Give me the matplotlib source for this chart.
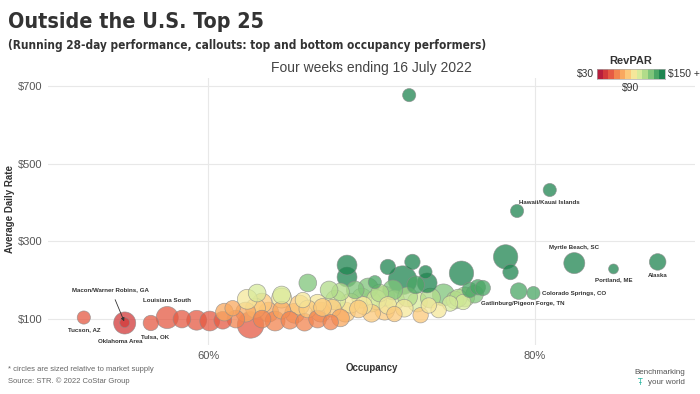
import numpy as np
import matplotlib.pyplot as plt
import matplotlib.font_manager as fm
from matplotlib.colors import ListedColormap, BoundaryNorm

plt.rcParams['font.family'] = ['Liberation Sans', 'DejaVu Sans']

# labelled markets (callouts)
callout_names = ['Hawaii/Kauai Islands', 'Myrtle Beach, SC', 'Portland, ME', 'Alaska',
                 'Colorado Springs, CO', 'Gatlinburg/Pigeon Forge, TN', 'Tucson, AZ',
                 'Oklahoma Area', 'Macon/Warner Robins, GA', 'Tulsa, OK', 'Louisiana South']
callout_occ = [80.9, 82.4, 84.8, 87.5, 79.9, 79.0, 52.4, 54.9, 54.9, 56.5, 57.5]
callout_adr = [432, 244, 229, 247, 167, 172, 104, 90, 91, 90, 104]
callout_supply = [4.1, 10.4, 2.3, 6.5, 4.1, 6.5, 4.1, 11.5, 2.3, 5.6, 11.5]

# all other markets
occ = [72.3, 78.9,
       58.4, 59.3, 60.1, 60.9, 61.7, 62.6, 63.3, 64.1, 65.0, 65.9, 66.7, 67.5, 68.1,
       61.0, 61.5, 62.3, 62.9, 63.7, 64.5, 65.3, 66.1, 66.9, 67.6, 68.4, 69.2, 70.0,
       70.8, 71.4, 73.0, 74.1,
       62.4, 63.3, 64.5, 65.6, 66.7, 67.8, 68.7, 69.4, 70.0, 70.8, 71.4, 72.2, 72.8,
       73.6, 74.4, 75.1, 75.7, 76.3, 68.1, 69.0, 69.8, 70.5, 71.3, 65.8,
       63.0, 66.1, 68.5, 68.5, 71.0, 72.5, 71.9, 73.3, 73.4, 72.7, 75.5, 78.2, 78.5,
       76.0, 76.5, 76.8, 75.3, 75.6, 70.2, 64.5, 67.4,
       71.0, 72.0, 73.5, 69.5, 67.0, 70.3, 74.8]
adr = [676, 378,
       100, 97, 95, 97, 100, 85, 100, 95, 97, 92, 100, 92, 103,
       118, 128, 118, 128, 118, 123, 115, 126, 118, 128, 118, 126, 115,
       123, 113, 110, 123,
       151, 141, 154, 136, 141, 149, 141, 154, 144, 159, 149, 157, 144,
       154, 162, 149, 157, 164, 170, 175, 180, 167, 175, 149,
       167, 193, 239, 208, 234, 247, 200, 221, 193, 188, 218, 260, 221,
       175, 182, 180, 154, 144, 195, 162, 175,
       135, 128, 135, 135, 130, 150, 140]
supply = [4.1, 4.1,
          7.4, 9.3, 9.3, 7.4, 7.4, 16.6, 7.4, 9.3, 7.4, 7.4, 7.4, 5.6, 7.4,
          7.4, 5.6, 9.3, 9.3, 9.3, 7.4, 9.3, 7.4, 9.3, 7.4, 9.3, 7.4, 7.4,
          9.3, 5.6, 5.6, 5.6,
          9.3, 9.3, 9.3, 9.3, 7.4, 9.3, 9.3, 9.3, 9.3, 9.3, 9.3, 9.3, 9.3,
          9.3, 11.5, 7.4, 9.3, 7.4, 7.4, 7.4, 9.3, 7.4, 9.3, 5.6,
          7.4, 7.4, 9.3, 9.3, 5.6, 5.6, 19.5, 4.1, 9.3, 7.4, 14, 14, 5.6,
          5.6, 5.6, 5.6, 7.4, 5.6, 4.1, 7.4, 7.4,
          7.4, 7.4, 5.6, 7.4, 7.4, 9.3, 5.6]

colors = ['#b61e3c', '#d23a3a', '#e55a43', '#f2844f', '#f9a85f', '#fcc97a',
          '#f5e79a', '#d8eb9b', '#b2dc8a', '#7fc57a', '#4aa665', '#1f8550']
cmap = ListedColormap(colors)
norm = BoundaryNorm(np.linspace(30, 150, 13), cmap.N, clip=True)

# look for a condensed bold face for the headings, else fall back
cond = [f for f in fm.fontManager.ttflist
        if ('ondensed' in str(f.stretch) or 'Narrow' in f.name) and str(f.weight) in ('700', 'bold')]
head_font = fm.FontProperties(fname=cond[0].fname) if cond else fm.FontProperties(family='Liberation Sans', weight='bold')

all_occ = np.array(occ + callout_occ)
all_adr = np.array(adr + callout_adr)
all_sup = np.array(supply + callout_supply)
revpar = all_occ * all_adr / 100
order = np.argsort(-all_sup)

fig = plt.figure(figsize=(7, 3.94), dpi=100)
ax = fig.add_axes([0.0686, 0.124, 0.9244, 0.678])
ax.scatter(all_occ[order], all_adr[order], s=all_sup[order] * 22, c=revpar[order],
           cmap=cmap, norm=norm, alpha=0.75, edgecolors='#8a8a8a', linewidths=0.5, zorder=3)

ax.set_xlim(50.21, 89.79)
ax.set_ylim(33, 720)
ax.set_xticks([60, 80])
ax.set_xticklabels(['60%', '80%'])
ax.set_yticks([100, 300, 500, 700])
ax.set_yticklabels(['$100', '$300', '$500', '$700'])
ax.tick_params(length=0, labelsize=8, colors='#555555', pad=4)
for s in ax.spines.values():
    s.set_visible(False)
ax.grid(True, color='#e8e8e8', linewidth=0.8, zorder=0)

ax.set_xlabel('Occupancy', fontsize=7, fontweight='bold', color='#333333', labelpad=2)
ax.set_ylabel('Average Daily Rate', fontsize=7, fontweight='bold', color='#333333')
ax.yaxis.set_label_coords(-0.051, 0.51)
ax.set_title('Four weeks ending 16 July 2022', fontsize=10, color='#444444', pad=4)

# callout labels: (dx, dy in points, ha)
offsets = {
    'Hawaii/Kauai Islands': (0, -9, 'center'),
    'Myrtle Beach, SC': (0, 11, 'center'),
    'Portland, ME': (0, -8, 'center'),
    'Alaska': (0, -10, 'center'),
    'Colorado Springs, CO': (6, 0, 'left'),
    'Gatlinburg/Pigeon Forge, TN': (3, -9, 'center'),
    'Tucson, AZ': (0, -9, 'center'),
    'Oklahoma Area': (-3, -13, 'center'),
    'Tulsa, OK': (3, -10, 'center'),
    'Louisiana South': (0, 12, 'center'),
}
for name, x, y in zip(callout_names, callout_occ, callout_adr):
    if name in offsets:
        dx, dy, ha = offsets[name]
        ax.annotate(name, (x, y), xytext=(dx, dy), textcoords='offset points',
                    ha=ha, va='center', fontsize=4.4, fontweight='bold', color='#333333', zorder=5)
i = callout_names.index('Macon/Warner Robins, GA')
ax.annotate(callout_names[i], (callout_occ[i], callout_adr[i]), xytext=(-10, 24),
            textcoords='offset points', ha='center', va='center', fontsize=4.4,
            fontweight='bold', color='#333333', zorder=5,
            arrowprops=dict(arrowstyle='-|>', color='#333333', lw=0.6, mutation_scale=5,
                            shrinkA=4, shrinkB=1))

# titles and notes
t1 = fig.text(0.011, 0.944, 'Outside the U.S. Top 25', fontproperties=head_font,
              fontsize=17, color='#333333', va='center')
t2 = fig.text(0.011, 0.885, '(Running 28-day performance, callouts: top and bottom occupancy performers)',
              fontproperties=head_font, fontsize=10, color='#333333', va='center')
fig.text(0.011, 0.063, '* circles are sized relative to market supply', fontsize=5.5,
         color='#666666', va='center')
fig.text(0.011, 0.033, 'Source: STR. \u00a9 2022 CoStar Group', fontsize=5.5,
         color='#666666', va='center')
fig.text(0.979, 0.055, 'Benchmarking', fontsize=5.8, color='#555555', ha='right', va='center')
fig.text(0.979, 0.03, 'your world', fontsize=5.8, color='#555555', ha='right', va='center')
fig.text(0.915, 0.03, '\u0166', fontsize=5.5, color='#2bb5a0', ha='center', va='center',
         family='DejaVu Sans')

# shrink headings to the reference widths (pixels)
renderer = fig.canvas.get_renderer()
for t, target in ((t1, 254), (t2, 472)):
    w = t.get_window_extent(renderer).width
    if w > target:
        t.set_fontsize(t.get_fontsize() * target / w)

# RevPAR legend
cax = fig.add_axes([0.853, 0.7995, 0.097, 0.025])
cax.imshow(np.arange(12).reshape(1, -1), cmap=cmap, aspect='auto')
cax.set_xticks([])
cax.set_yticks([])
for s in cax.spines.values():
    s.set_color('#aaaaaa')
    s.set_linewidth(0.5)
fig.text(0.9015, 0.845, 'RevPAR', fontsize=8, fontweight='bold', color='#333333',
         ha='center', va='center')
fig.text(0.849, 0.812, '$30', fontsize=7.5, color='#333333', ha='right', va='center')
fig.text(0.954, 0.812, '$150 +', fontsize=7.5, color='#333333', ha='left', va='center')
fig.text(0.9015, 0.777, '$90', fontsize=7.5, color='#333333', ha='center', va='center')

fig.savefig('out.png', dpi=100)
